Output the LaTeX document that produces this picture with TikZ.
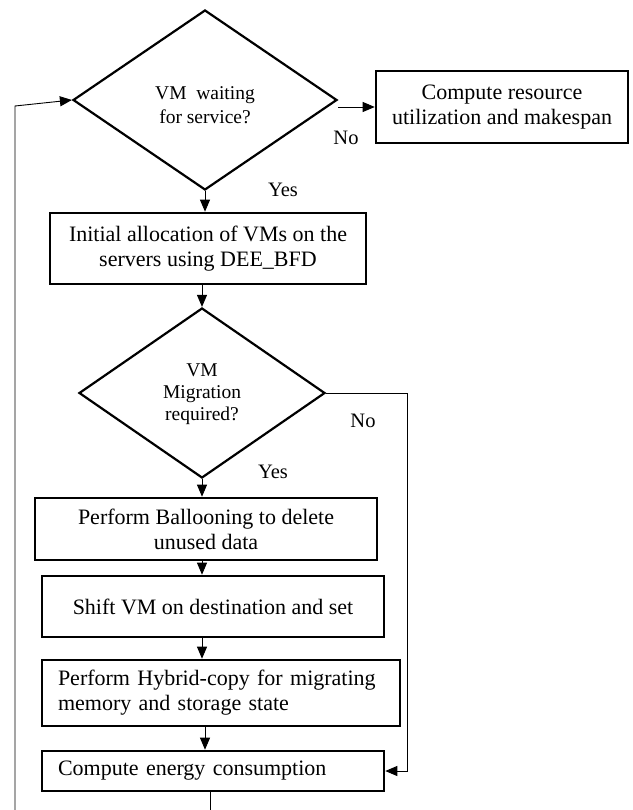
\documentclass[tikz,border=0pt]{standalone}
\usepackage{fontspec}
\setmainfont{Liberation Serif}
\usetikzlibrary{shapes.geometric,arrows.meta}
\begin{document}
\begin{tikzpicture}[x=1pt,y=-1pt,
 box/.style={draw,line width=2.6pt,inner sep=0pt,font=\fontsize{22}{25}\selectfont,align=center},
 dec/.style={draw,diamond,line width=2.2pt,inner sep=0pt},
 dtext/.style={inner sep=0pt,font=\fontsize{19.5}{22}\selectfont,align=center},
 lab/.style={font=\fontsize{20.5}{24}\selectfont},
 conn/.style={line width=0.9pt,-{Triangle[length=12pt,width=10pt]}},
 plain/.style={line width=0.9pt}]
\useasboundingbox (0,0) rectangle (632,810);
\node[dec,minimum width=264,minimum height=180] (d1) at (205,100) {};
\node[dtext,font=\fontsize{19.5}{24.5}\selectfont] (d1t) at (205,105) {VM~~waiting\\for service?};
\node[box,minimum width=252,minimum height=72] (b1) at (502,107) {Compute resource\\utilization and makespan};
\node[box,minimum width=316,minimum height=71] (b2) at (208,248.5) {Initial allocation of VMs on the\\servers using DEE\_BFD};
\node[dec,minimum width=246,minimum height=170] (d2) at (202,393) {};
\node[dtext] (d2t) at (202,394) {VM\\Migration\\required?};
\node[box,minimum width=342,minimum height=62] (b3) at (206,529) {Perform Ballooning to delete\\unused data};
\node[box,minimum width=342,minimum height=61] (b4) at (213,606.5) {Shift VM on destination and set};
\node[box,minimum height=66,text width=326pt,inner xsep=16pt,align=left] (b5) at (221,693) {Perform Hybrid-copy for migrating\\memory and storage state};
\node[box,minimum height=40,text width=310pt,inner xsep=16pt,align=left] (b6) at (213,771) {Compute energy consumption};
\node[lab] (no1) at (346,138) {No};
\node[lab] (yes1) at (283,190) {Yes};
\node[lab] (no2) at (363,421) {No};
\node[lab] (yes2) at (273,472) {Yes};
\coordinate (bot) at (210,810);
\coordinate (rr) at (407,393);
\coordinate (lb) at (15,810);
\coordinate (lt) at (15,106);
\draw[conn] (b1.west -| d1.east) -- (b1.west);
\draw[conn] (d1.south) -- (d1.south |- b2.north);
\draw[conn] (b2.south -| d2.north) -- (d2.north);
\draw[conn] (d2.south) -- (d2.south |- b3.north);
\draw[conn] (b3.south -| d2.south) -- (b4.north -| d2.south);
\draw[conn] (b4.south -| d2.south) -- (b5.north -| d2.south);
\draw[conn] (b5.south -| d1.south) -- (b6.north -| d1.south);
\draw[plain] (b6.south -| bot) -- (bot);
\draw[conn] (d2.east) -- (rr) |- (b6.east);
\draw[conn] (lb) -- (lt) -- (d1.west);
\end{tikzpicture}
\end{document}
